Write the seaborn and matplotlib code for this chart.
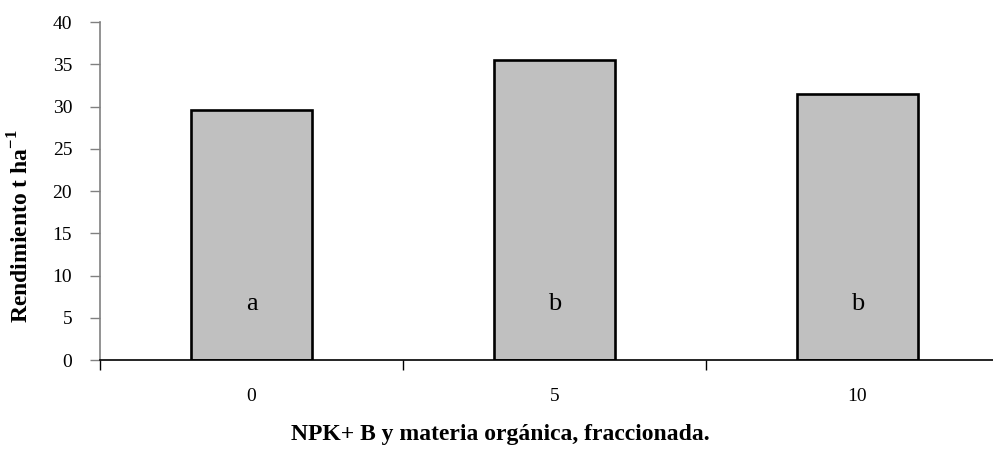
import pandas as pd
import matplotlib
matplotlib.use("Agg")
import matplotlib.pyplot as plt
import seaborn as sns

# Datos
dosis = ["0", "5", "10"]
rendimiento = [29.6, 35.5, 31.5]
letras = ["a", "b", "b"]

df = pd.DataFrame({"dosis": dosis, "rendimiento": rendimiento})

sns.set_style("white")
plt.rcParams["font.family"] = ["Liberation Serif", "DejaVu Serif"]
plt.rcParams["mathtext.fontset"] = "custom"
plt.rcParams["mathtext.rm"] = "Liberation Serif"
plt.rcParams["mathtext.bf"] = "Liberation Serif:bold"
plt.rcParams["text.color"] = "black"
plt.rcParams["axes.labelcolor"] = "black"
plt.rcParams["xtick.color"] = "black"
plt.rcParams["ytick.color"] = "black"

fig = plt.figure(figsize=(9.93, 4.49), dpi=100)
ax = fig.add_axes([0.1007, 0.198, 0.899, 0.753])

sns.barplot(data=df, x="dosis", y="rendimiento", color="#C0C0C0",
            width=0.4, edgecolor="black", linewidth=1.9, saturation=1, ax=ax)

# letras de significancia dentro de las barras
for i, letra in enumerate(letras):
    ax.text(i, 6.6, letra, ha="center", va="center", fontsize=19)

ax.set_ylim(0, 40)
ax.set_xlim(-0.5, 2.447)
ax.set_yticks(range(0, 41, 5))
ax.set_xticks([0, 1, 2])
ax.set_xticks([-0.5, 0.5, 1.5], minor=True)

ax.tick_params(axis="y", which="major", direction="out", length=7, width=1,
               color="#808080", labelcolor="black", left=True, labelsize=14,
               pad=13)
ax.tick_params(axis="x", which="major", length=0, labelsize=14, pad=20)
ax.tick_params(axis="x", which="minor", direction="out", length=7, width=1,
               color="black", bottom=True)

for lado in ["top", "right"]:
    ax.spines[lado].set_visible(False)
ax.spines["left"].set_color("#808080")
ax.spines["left"].set_linewidth(1.2)
ax.spines["bottom"].set_color("black")
ax.spines["bottom"].set_linewidth(1.2)

ax.set_xlabel("NPK+ B y materia orgánica, fraccionada.", fontsize=17,
              fontweight="bold")
ax.set_ylabel(r"Rendimiento t ha$^{\mathbf{-1}}$", fontsize=17,
              fontweight="bold")
ax.xaxis.set_label_coords(0.448, -0.19)
ax.yaxis.set_label_coords(-0.074, 0.396)

fig.savefig("out.png", dpi=100)
